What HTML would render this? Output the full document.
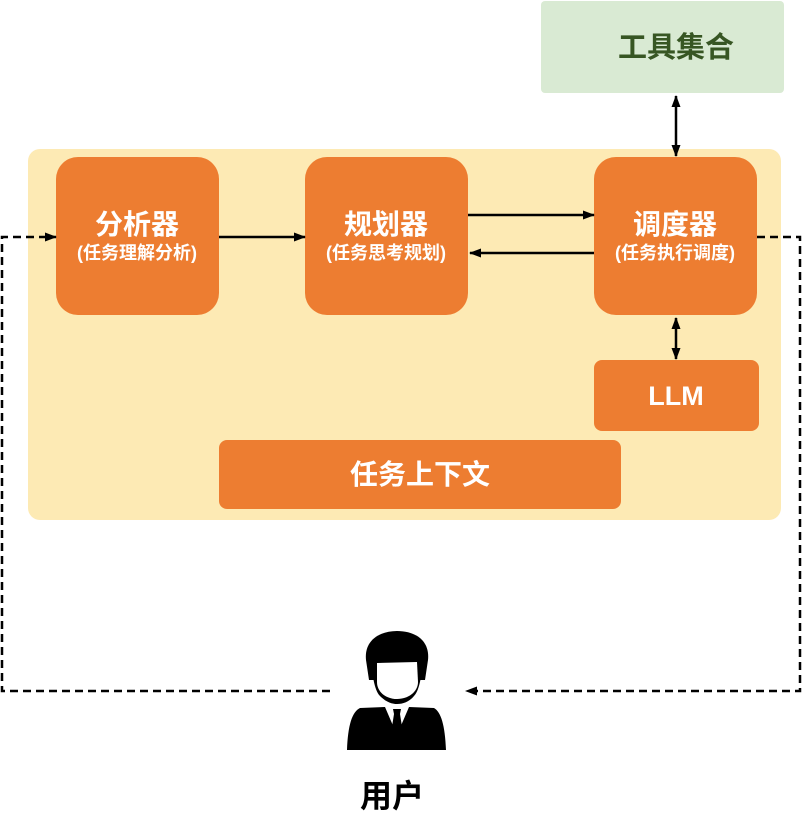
<!DOCTYPE html>
<html><head><meta charset="utf-8"><style>
html,body{margin:0;padding:0;background:#fff;width:812px;height:838px;overflow:hidden}
svg text{font-family:"Liberation Sans","Noto Sans CJK SC",sans-serif;font-weight:bold}
</style></head><body>
<svg width="812" height="838" viewBox="0 0 812 838" xmlns="http://www.w3.org/2000/svg">
<defs>
<marker id="a" markerWidth="12" markerHeight="12" refX="11" refY="6" orient="auto" markerUnits="userSpaceOnUse"><path d="M0,1.5 L12,6 L0,10.5 z" fill="#000"/></marker>
<marker id="b" markerWidth="12" markerHeight="12" refX="1" refY="6" orient="auto" markerUnits="userSpaceOnUse"><path d="M12,1.5 L0,6 L12,10.5 z" fill="#000"/></marker>
</defs>
<rect x="541" y="1" width="243" height="92" rx="4" fill="#d9ead3"/>
<text x="676" y="57" text-anchor="middle" font-size="29" fill="#375623">工具集合</text>
<rect x="28" y="149" width="753" height="371" rx="12" fill="#fdeab4"/>
<g fill="#ed7d31">
<rect x="56" y="157" width="163" height="158" rx="22"/>
<rect x="305" y="157" width="163" height="158" rx="22"/>
<rect x="594" y="157" width="163" height="158" rx="22"/>
<rect x="594" y="360" width="165" height="71" rx="8"/>
<rect x="219" y="440" width="402" height="69" rx="8"/>
</g>
<g fill="#fff" text-anchor="middle">
<text x="137" y="234" font-size="28">分析器</text>
<text x="137" y="259" font-size="18">(任务理解分析)</text>
<text x="386" y="234" font-size="28">规划器</text>
<text x="386" y="259" font-size="18">(任务思考规划)</text>
<text x="675" y="234" font-size="28">调度器</text>
<text x="675" y="259" font-size="18">(任务执行调度)</text>
<text x="676" y="405" font-size="27">LLM</text>
<text x="420" y="484" font-size="28">任务上下文</text>
</g>
<g stroke="#000" stroke-width="2.5" fill="none">
<line x1="219" y1="237" x2="305" y2="237" marker-end="url(#a)"/>
<line x1="468" y1="215" x2="594" y2="215" marker-end="url(#a)"/>
<line x1="594" y1="253" x2="470" y2="253" marker-end="url(#a)"/>
<line x1="676" y1="96" x2="676" y2="156" marker-start="url(#b)" marker-end="url(#a)"/>
<line x1="676" y1="318" x2="676" y2="359" marker-start="url(#b)" marker-end="url(#a)"/>
<g stroke-dasharray="8,5">
<polyline points="330,691 2,691 2,237 56,237" marker-end="url(#a)"/>
<polyline points="757,237 800,237 800,691 466,691" marker-end="url(#a)"/>
</g>
</g>
<g fill="#000">
<path d="M366,660 C364,640 380,631 397,631 C416,631 430,641 428,660 L425,680 L369,680 Z"/>
<path d="M372,665 C372,672 374,690 380,696 C386,702 392,704 397,704 C403,704 409,702 414,696 C420,690 422,672 422,665 Z"/>
<path d="M377,663 L417,662 L418,682 C418,692 408,699 397,699 C386,699 377,692 377,682 Z" fill="#fff"/>
<path d="M360,708 L385,707 L397,735 L409,707 L434,708 C441,712 445,725 446,750 L347,750 C348,725 352,712 360,708 Z"/>
<path d="M393,709 L401,709 L400,714 L403,733 L397,741 L391,733 L394,714 Z"/>
</g>
<text x="392" y="807" text-anchor="middle" font-size="32" fill="#000">用户</text>
</svg>
</body></html>
